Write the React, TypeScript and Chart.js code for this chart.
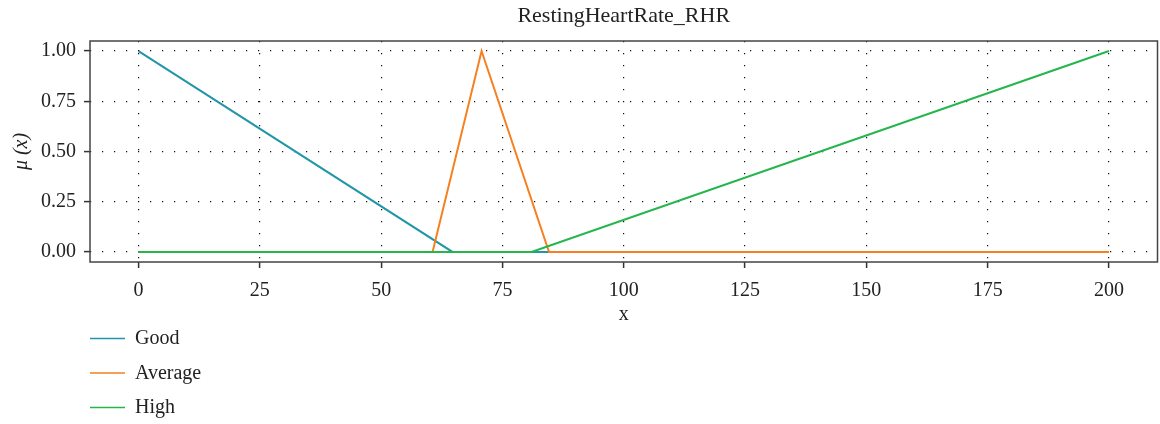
import React, { useEffect, useRef } from 'react';
import { Chart, registerables } from 'chart.js';

Chart.register(...registerables);

const TITLE = 'RestingHeartRate_RHR';
const X_LABEL = 'x';
const Y_LABEL = 'μ (x)';

const seriesNames = ['Good', 'Average', 'High'];
const seriesColors = ['#2196a8', '#f67f1f', '#24b64b'];

const goodX = [0, 64.7, 200];
const goodY = [1, 0, 0];
const averageX = [0, 60.6, 70.7, 84.6, 200];
const averageY = [0, 0, 1, 0, 0];
const highX = [0, 81, 200];
const highY = [0, 0, 1];

const xTicks = [0, 25, 50, 75, 100, 125, 150, 175, 200];
const yTicks = [0, 0.25, 0.5, 0.75, 1];

const FONT = "'Liberation Serif', 'DejaVu Serif', serif";
const TEXT = '#222222';

const toPoints = (xs: number[], ys: number[]) => xs.map((x, i) => ({ x, y: ys[i] }));

const framePlugin = {
  id: 'frameAndLegend',
  afterDatasetsDraw(chart: any) {
    const { ctx, chartArea: a } = chart;
    ctx.save();
    ctx.strokeStyle = '#444444';
    ctx.lineWidth = 1.5;
    ctx.setLineDash([]);
    ctx.strokeRect(a.left, a.top, a.right - a.left, a.bottom - a.top);
    ctx.restore();
  },
  afterDraw(chart: any) {
    const { ctx } = chart;
    ctx.save();
    ctx.font = `20px ${FONT}`;
    ctx.textBaseline = 'middle';
    ctx.textAlign = 'left';
    chart.data.datasets.forEach((ds: any, i: number) => {
      const y = 338.5 + i * 34.5;
      ctx.strokeStyle = ds.borderColor;
      ctx.lineWidth = 1.5;
      ctx.beginPath();
      ctx.moveTo(90, y);
      ctx.lineTo(125, y);
      ctx.stroke();
      ctx.fillStyle = TEXT;
      ctx.fillText(ds.label, 135, y + 0.5);
    });
    ctx.restore();
  },
};

const gridOpts = {
  color: '#111111',
  lineWidth: 1.2,
  drawTicks: true,
  tickLength: 6,
  tickColor: '#333333',
  tickWidth: 1.5,
  tickBorderDash: [],
};

export default function App() {
  const ref = useRef<HTMLCanvasElement | null>(null);

  useEffect(() => {
    if (!ref.current) return;
    const series = [
      toPoints(goodX, goodY),
      toPoints(averageX, averageY),
      toPoints(highX, highY),
    ];
    const orders = [2, 1, 0];
    const chart = new Chart(ref.current, {
      type: 'line',
      data: {
        datasets: series.map((data, i) => ({
          label: seriesNames[i],
          data,
          borderColor: seriesColors[i],
          backgroundColor: seriesColors[i],
          borderWidth: 2,
          pointRadius: 0,
          fill: false,
          tension: 0,
          order: orders[i],
        })),
      },
      options: {
        animation: false,
        responsive: false,
        maintainAspectRatio: false,
        layout: { padding: { left: 0, right: 2.5, top: 0, bottom: 96 } },
        plugins: {
          legend: { display: false },
          tooltip: { enabled: false },
          title: {
            display: true,
            fullSize: false,
            text: TITLE,
            color: TEXT,
            font: { family: FONT, size: 22, weight: 'normal' },
            padding: { top: 3, bottom: 11.6 },
          },
        },
        scales: {
          x: {
            type: 'linear',
            min: -10,
            max: 210,
            afterBuildTicks: (scale: any) => {
              scale.ticks = xTicks.map((v) => ({ value: v }));
            },
            afterFit: (scale: any) => {
              scale.height = 66;
            },
            border: { display: false, dash: [1.2, 10.8] },
            grid: gridOpts,
            ticks: {
              color: TEXT,
              font: { family: FONT, size: 20 },
              padding: 11,
              maxRotation: 0,
              callback: (v: any) => String(v),
            },
            title: {
              display: true,
              text: X_LABEL,
              color: TEXT,
              font: { family: FONT, size: 20 },
              padding: { top: 1, bottom: 1 },
            },
          },
          y: {
            type: 'linear',
            min: -0.05,
            max: 1.05,
            afterBuildTicks: (scale: any) => {
              scale.ticks = yTicks.map((v) => ({ value: v }));
            },
            afterFit: (scale: any) => {
              scale.width = 90;
            },
            border: { display: false, dash: [1.2, 10.8] },
            grid: gridOpts,
            ticks: {
              color: TEXT,
              font: { family: FONT, size: 20 },
              padding: 8,
              callback: (v: any) => Number(v).toFixed(2),
            },
            title: {
              display: true,
              text: Y_LABEL,
              color: TEXT,
              font: { family: FONT, size: 20, style: 'italic' },
              padding: { top: 10, bottom: 0 },
            },
          },
        },
      },
      plugins: [framePlugin],
    } as any);
    return () => chart.destroy();
  }, []);

  return (
    <div style={{ position: 'absolute', left: 0, top: 0, width: 1160, height: 424, background: '#ffffff' }}>
      <canvas ref={ref} width={1160} height={424} style={{ width: 1160, height: 424, display: 'block' }} />
    </div>
  );
}
